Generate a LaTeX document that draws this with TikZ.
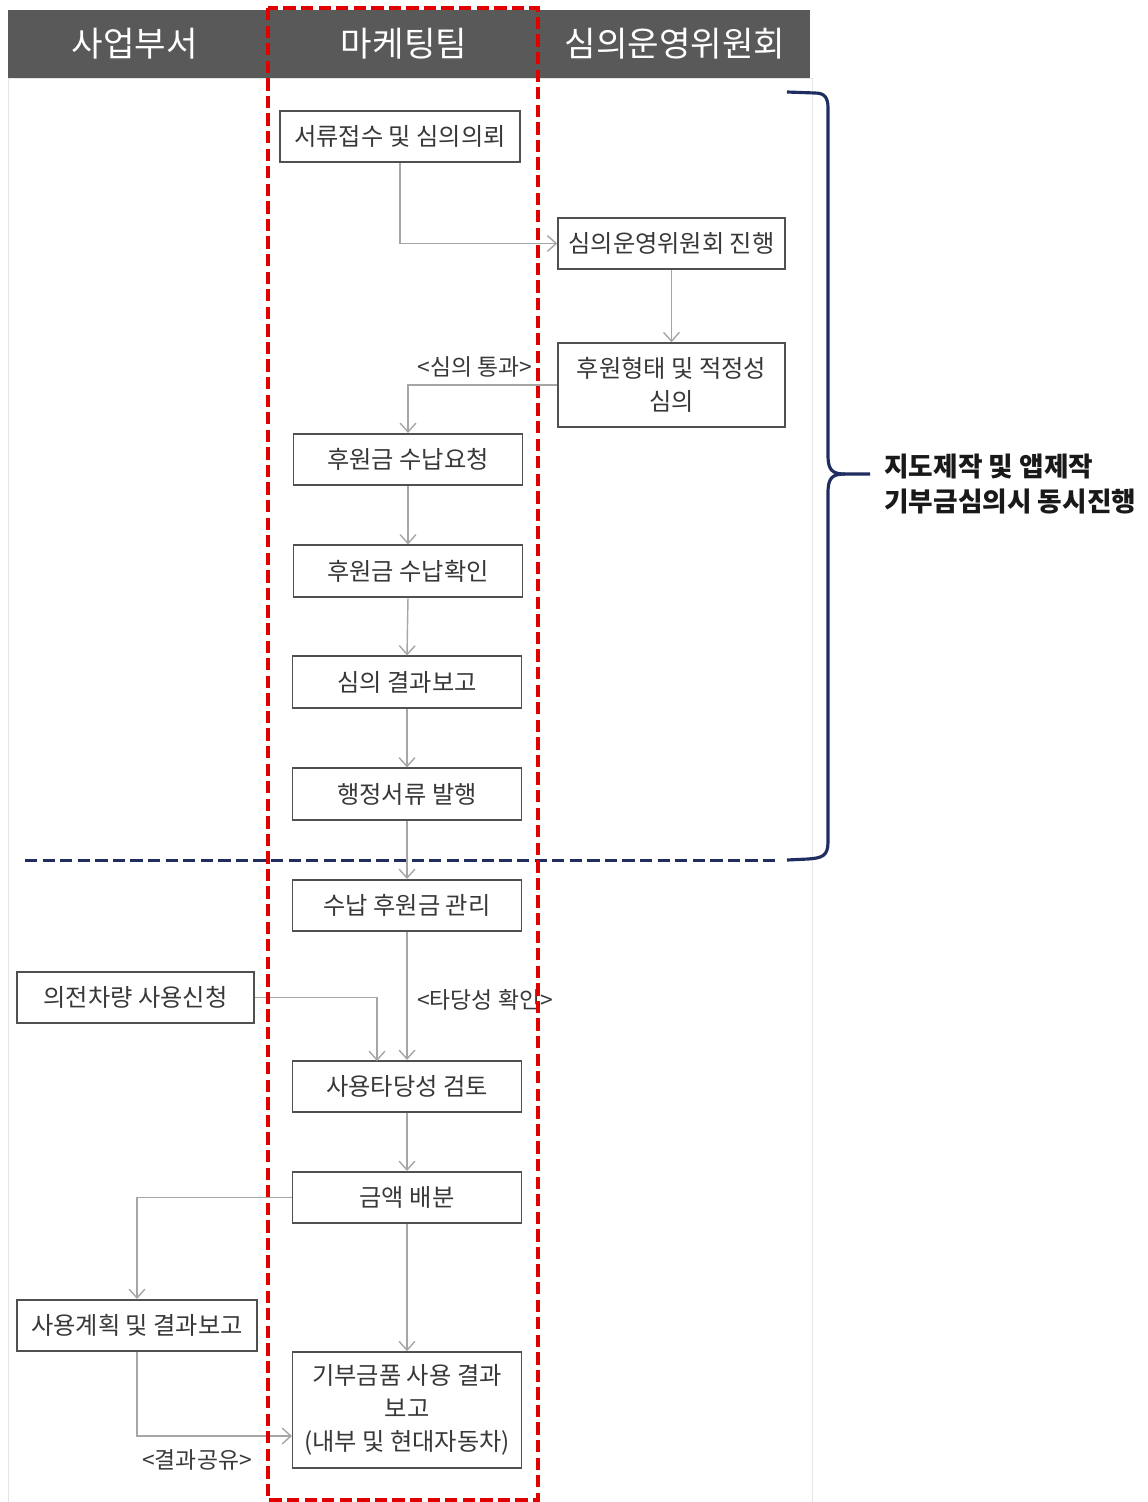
\documentclass[tikz,border=0pt]{standalone}
\usepackage{fontspec}
\setmainfont{Noto Sans CJK KR}
\usetikzlibrary{arrows.meta}
\definecolor{headgrey}{RGB}{89,89,89}
\definecolor{boxgrey}{RGB}{80,80,80}
\definecolor{textgrey}{RGB}{56,56,56}
\definecolor{linegrey}{RGB}{166,166,166}
\definecolor{teamred}{RGB}{224,0,0}
\definecolor{navy}{RGB}{31,45,96}

\begin{document}
\begin{tikzpicture}[x=0.02cm, y=-0.02cm,
    box/.style={draw=boxgrey, line width=0.9pt, text=textgrey, inner sep=0pt,
        minimum width=4.58cm, minimum height=1.03cm, align=center,
        font=\fontsize{13.8}{18.5}\selectfont},
    flow/.style={draw=linegrey, line width=0.8pt, -{Straight Barb[length=5pt,width=9pt]}},
    tag/.style={text=textgrey, inner sep=0pt, font=\fontsize{13}{15}\selectfont},
    head/.style={text=white, font=\fontsize{19.5}{22}\selectfont},
    bracket/.style={draw=navy, line width=1.8pt},
    ]
    \useasboundingbox (0,0) rectangle (1147,1502);
    \draw[black!10] (8,78) rectangle (812,1502);
    \fill[headgrey] (8,10) rectangle (810,78);

    \node[head] (h1) at (135,44) {사업부서};
    \node[head] (h2) at (404,44) {마케팅팀};
    \node[head] (h3) at (675,44) {심의운영위원회};

    \node[box, minimum width=4.8cm] (b1) at (400,136.5) {서류접수 및 심의의뢰};
    \node[box, minimum width=4.54cm] (b2) at (671.5,243.5) {심의운영위원회 진행};
    \node[box, minimum width=4.54cm, minimum height=1.68cm] (b3) at (671.5,385) {후원형태 및 적정성\\심의};
    \node[box] (b4) at (408,459.5) {후원금 수납요청};
    \node[box] (b5) at (408,571) {후원금 수납확인};
    \node[box] (b6) at (407,682) {심의 결과보고};
    \node[box] (b7) at (407,794) {행정서류 발행};
    \node[box] (b8) at (407,905.5) {수납 후원금 관리};
    \node[box, minimum width=4.74cm] (b9) at (135.5,997.5) {의전차량 사용신청};
    \node[box] (b10) at (407,1086.5) {사용타당성 검토};
    \node[box] (b11) at (407,1197.5) {금액 배분};
    \node[box, minimum width=4.8cm] (b12) at (137,1325.5) {사용계획 및 결과보고};
    \node[box, minimum height=2.32cm, font=\fontsize{13.8}{18.8}\selectfont] (b13) at (407,1410) {기부금품 사용 결과\\보고\\(내부 및 현대자동차)};

    \coordinate (b10in) at (377,1061);
    \coordinate (b13in) at (292,1436);

    \draw[flow] (b1.south) |- (b2.west);
    \draw[flow] (b2.south) -- (b3.north);
    \draw[flow] (b3.west) -| (b4.north);
    \draw[flow] (b4.south) -- (b5.north);
    \draw[flow] (b5.south) -- (b6.north);
    \draw[flow] (b6.south) -- (b7.north);
    \draw[flow] (b7.south) -- (b8.north);
    \draw[flow] (b8.south) -- (b10.north);
    \draw[flow] (b9.east) -| (b10in);
    \draw[flow] (b10.south) -- (b11.north);
    \draw[flow] (b11.west) -| (b12.north);
    \draw[flow] (b11.south) -- (b13.north);
    \draw[flow] (b12.south) |- (b13in);

    \node[tag] (t1) at (475,367) {<심의 통과>};
    \node[tag] (t2) at (485,1000) {<타당성 확인>};
    \node[tag] (t3) at (197,1460) {<결과공유>};

    \draw[navy, line width=1.7pt, dash pattern=on 7pt off 3pt] (25,860) -- (775,860);
    \draw[bracket] (787,92) -- (815,93) .. controls (825,93) and (828,98) .. (828,108)
        -- (828,455) .. controls (828,470) and (832,474) .. (845,474) -- (870,474);
    \draw[bracket] (845,474) .. controls (832,474) and (828,478) .. (828,493)
        -- (828,842) .. controls (828,856) and (822,858) .. (808,859) -- (787,860);

    \node[font=\bfseries\fontsize{15.2}{19.8}\selectfont, text=black!90, align=left, anchor=west, inner sep=0pt]
        (note) at (884,484) {지도제작 및 앱제작\\기부금심의시 동시진행};

    \draw[teamred, line width=2.2pt, dash pattern=on 7pt off 3pt] (268,8) rectangle (538,1500);
\end{tikzpicture}
\end{document}
